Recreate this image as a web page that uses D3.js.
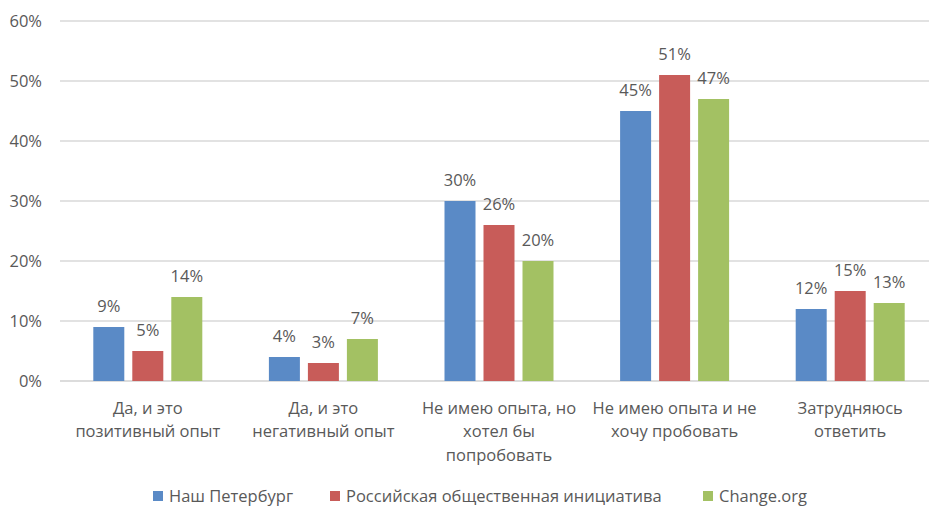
<!DOCTYPE html>
<html>
<head>
<meta charset="utf-8">
<script src="https://cdn.jsdelivr.net/npm/d3@7"></script>
<style>
  html, body { margin: 0; padding: 0; background: #fff; }
  svg { display: block; font-family: "Open Sans", "Noto Sans", sans-serif; }
</style>
</head>
<body>
<svg id="chart" width="929" height="507"></svg>
<script>
// Survey answers (share of respondents) by platform
const categories = [
  ["Да, и это", "позитивный опыт"],
  ["Да,  и это", "негативный опыт"],
  ["Не имею опыта, но", "хотел бы", "попробовать"],
  ["Не имею опыта и не", "хочу пробовать"],
  ["Затрудняюсь", "ответить"]
];
const seriesNames = ["Наш Петербург", "Российская общественная инициатива", "Change.org"];
const nashPeterburg = [9, 4, 30, 45, 12];
const rossiyskaya = [5, 3, 26, 51, 15];
const changeOrg = [14, 7, 20, 47, 13];
const yTicks = [0, 10, 20, 30, 40, 50, 60];
const colors = ["#5a8ac6", "#c85c59", "#a3c163"];

const values = [nashPeterburg, rossiyskaya, changeOrg];
const svg = d3.select("#chart");
const plot = { left: 60, right: 938, top: 21, bottom: 381 };
const fontSize = 16.5, textColor = "#595959";

const x = d3.scaleBand().domain(d3.range(categories.length)).range([plot.left, plot.right]);
const y = d3.scaleLinear().domain([0, 60]).range([plot.bottom, plot.top]);
const barW = 31, step = 39;

// gridlines
svg.append("g").selectAll("line").data(yTicks).join("line")
  .attr("x1", plot.left).attr("x2", plot.right)
  .attr("y1", d => y(d)).attr("y2", d => y(d))
  .attr("stroke", d => d === 0 ? "#d0d0d0" : "#d9d9d9").attr("stroke-width", 1.5);

// y axis labels
svg.append("g").selectAll("text").data(yTicks).join("text")
  .attr("x", 42).attr("y", d => y(d)).attr("dy", "0.35em")
  .attr("text-anchor", "end").attr("font-size", fontSize).attr("fill", textColor)
  .text(d => d + "%");

// bars and value labels
values.forEach((vals, s) => {
  const g = svg.append("g");
  const cx = i => x(i) + x.bandwidth() / 2 + (s - 1) * step;
  g.selectAll("rect").data(vals).join("rect")
    .attr("x", (d, i) => cx(i) - barW / 2)
    .attr("width", barW)
    .attr("y", d => y(d))
    .attr("height", d => y(0) - y(d))
    .attr("fill", colors[s]);
  g.selectAll("text").data(vals).join("text")
    .attr("x", (d, i) => cx(i))
    .attr("y", d => y(d) - 15.5)
    .attr("text-anchor", "middle").attr("font-size", fontSize).attr("fill", textColor)
    .text(d => d + "%");
});

// category labels
const cat = svg.append("g").selectAll("text").data(categories).join("text")
  .attr("x", (d, i) => x(i) + x.bandwidth() / 2)
  .attr("y", 413.5)
  .attr("text-anchor", "middle").attr("font-size", fontSize).attr("fill", textColor);
cat.selectAll("tspan").data(d => d).join("tspan")
  .attr("x", function() { return this.parentNode.getAttribute("x"); })
  .attr("dy", (d, i) => i === 0 ? 0 : 23.5)
  .text(d => d);

// legend
const legendX = [153, 330, 703];
const lg = svg.append("g").selectAll("g").data(seriesNames).join("g")
  .attr("transform", (d, i) => `translate(${legendX[i]},496)`);
lg.append("rect").attr("x", 0).attr("y", -5).attr("width", 10).attr("height", 10)
  .attr("fill", (d, i) => colors[i]);
lg.append("text").attr("x", 16).attr("y", 6)
  .attr("font-size", fontSize).attr("fill", textColor).text(d => d);
</script>
</body>
</html>
